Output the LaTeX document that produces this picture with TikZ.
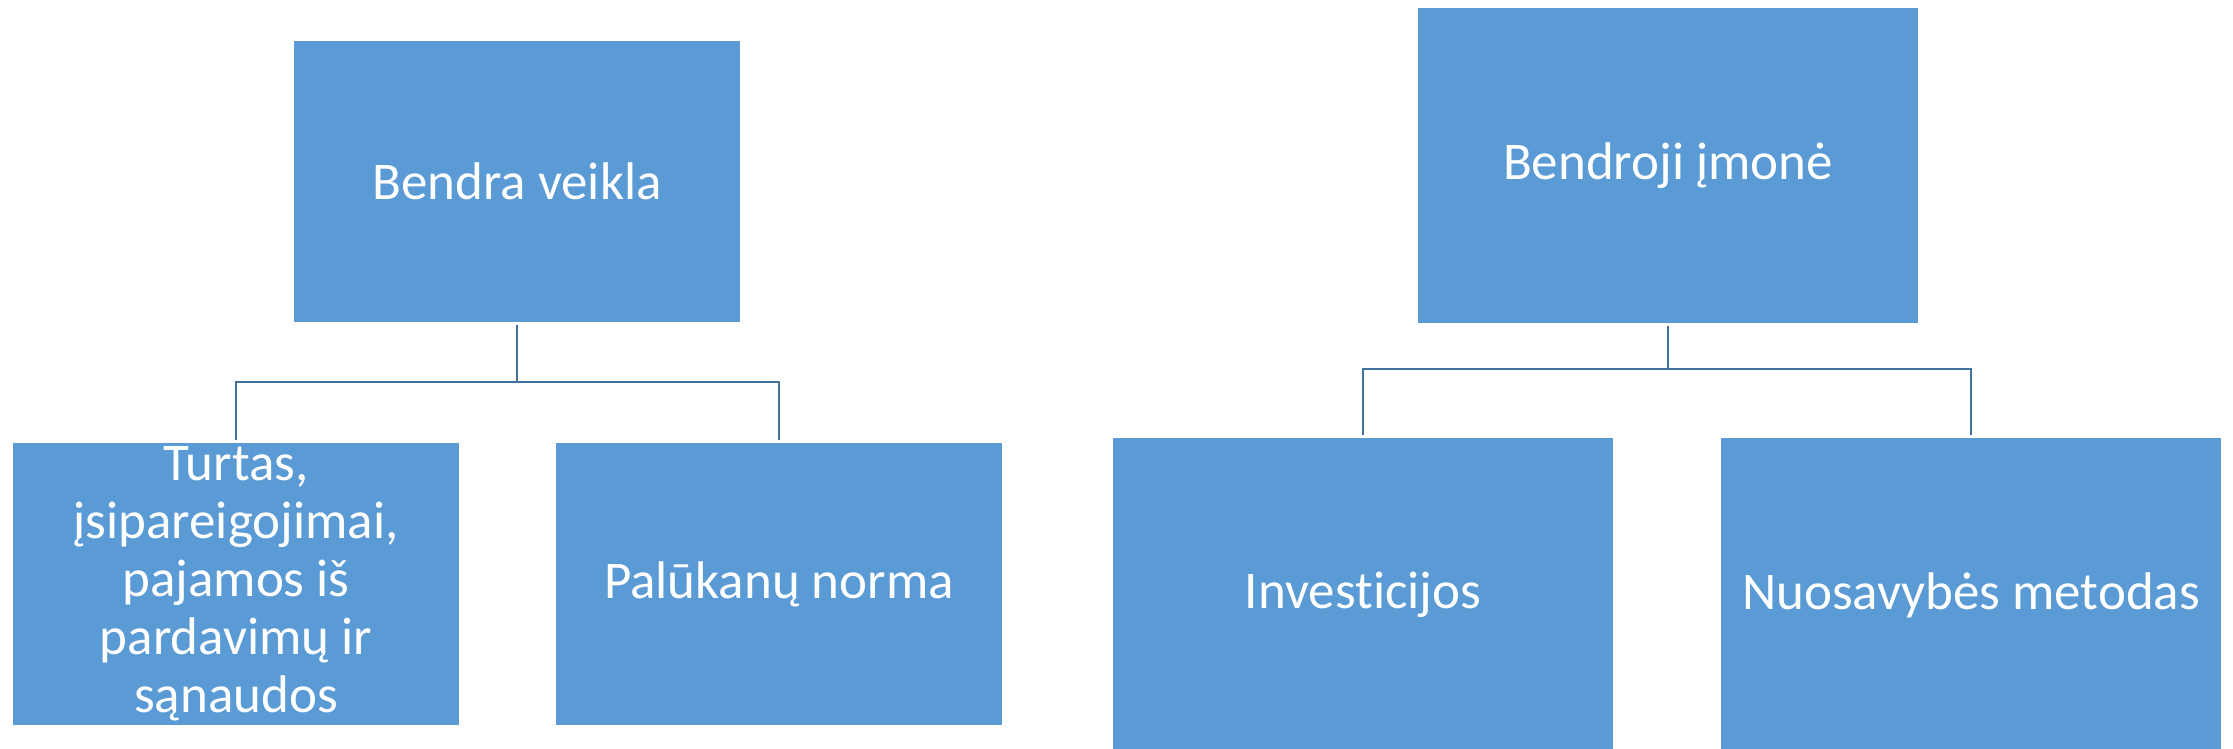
\documentclass[tikz,border=0pt]{standalone}
\usepackage{fontspec}
\setmainfont{Carlito}[Ligatures=NoCommon]
\definecolor{boxblue}{HTML}{5B9BD5}
\definecolor{linkblue}{HTML}{41719C}
\begin{document}
\begin{tikzpicture}[x=1pt,y=-1pt,
  box/.style={rectangle,fill=boxblue,text=white,inner sep=0pt,align=center,
    font=\fontsize{53}{58}\selectfont},
  conn/.style={draw=linkblue,line width=2pt}]
\useasboundingbox (0,0) rectangle (2233,749);
\begin{scope}
\clip (0,0) rectangle (2233,749);
% left tree
\node[box,minimum width=446pt,minimum height=281pt] (tl) at (517,181.5) {Bendra veikla};
\node[box,minimum width=446pt,minimum height=282pt] (ll) at (236,584) {Turtas,\\įsipareigojimai,\\pajamos iš\\pardavimų ir\\sąnaudos};
\node[box,minimum width=446pt,minimum height=282pt] (lr) at (779,584) {Palūkanų norma};
% right tree
\node[box,minimum width=500pt,minimum height=315pt] (tr) at (1668,165.5) {Bendroji įmonė};
\node[box,minimum width=500pt,minimum height=314pt] (rl) at (1363,595) {Investicijos};
\node[box,minimum width=500pt,minimum height=314pt] (rr) at (1971,595) {Nuosavybės metodas};
\end{scope}
\coordinate (busL) at (517,382);
\coordinate (busR) at (1668,369);
\draw[conn] ([yshift=-3pt]tl.south) -- (busL) -| ([yshift=3pt]ll.north);
\draw[conn] (busL) -| ([yshift=3pt]lr.north);
\draw[conn] ([yshift=-3pt]tr.south) -- (busR) -| ([yshift=3pt]rl.north);
\draw[conn] (busR) -| ([yshift=3pt]rr.north);
\end{tikzpicture}
\end{document}
